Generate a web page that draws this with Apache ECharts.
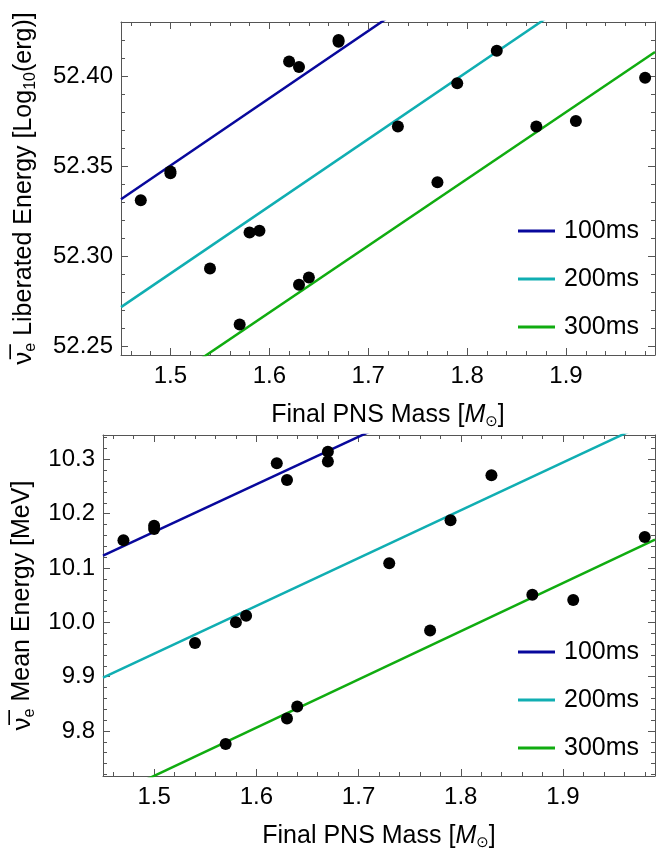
<!DOCTYPE html>
<html>
<head>
<meta charset="utf-8">
<script src="https://cdn.jsdelivr.net/npm/echarts@6/dist/echarts.min.js"></script>
<style>
html,body{margin:0;padding:0;background:#fff;}
#chart{width:658px;height:852px;}
</style>
</head>
<body>
<div id="chart"></div>
<script>
// ---- Data ----
var seriesNames = ['100ms', '200ms', '300ms'];
var lineColors = ['#08089c', '#10aeb2', '#10ac10'];

var pnsMass = [1.47, 1.50, 1.50, 1.54, 1.57, 1.58, 1.59, 1.62, 1.63, 1.63, 1.64, 1.67, 1.67, 1.73, 1.77, 1.79, 1.83, 1.87, 1.91, 1.98];
var liberatedEnergy = [52.331, 52.346, 52.347, 52.293, 52.262, 52.313, 52.314, 52.408, 52.405, 52.284, 52.288, 52.419, 52.420, 52.372, 52.341, 52.396, 52.414, 52.372, 52.375, 52.399];
var meanEnergy = [10.151, 10.178, 10.172, 9.962, 9.776, 10.000, 10.012, 10.293, 10.262, 9.823, 9.845, 10.314, 10.296, 10.109, 9.985, 10.188, 10.271, 10.051, 10.041, 10.157];

// fit lines: values at the two fitX ends
var fitX = [1.45, 1.99];
var fitLiberated100 = [52.3315, 52.5335];
var fitLiberated200 = [52.2716, 52.4732];
var fitLiberated300 = [52.2129, 52.4133];
var fitMean100 = [10.123, 10.5955];
var fitMean200 = [9.898, 10.3737];
var fitMean300 = [9.6728, 10.1523];

var xRange = [1.45, 1.99];
var yRangeTop = [52.245, 52.43];
var yRangeBottom = [9.717, 10.345];

// ---- Chart ----
var FONT = '"Liberation Sans", Arial, sans-serif';
var FRAME = '#555';
function pairs(xs, ys) { return xs.map(function (x, i) { return [x, ys[i]]; }); }

function makeAxis(gridIndex, pos, range, showLabel, fmt, extra) {
  var ax = {
    type: 'value', gridIndex: gridIndex, position: pos,
    min: range[0], max: range[1],
    splitNumber: extra.splitNumber,
    axisLine: { show: true, lineStyle: { color: FRAME, width: 1 } },
    axisTick: { show: true, inside: true, length: 7, lineStyle: { color: FRAME } },
    minorTick: { show: true, splitNumber: 5, length: 4, lineStyle: { color: FRAME } },
    splitLine: { show: false },
    axisLabel: {
      show: showLabel, color: '#000', fontFamily: FONT, fontSize: 24,
      margin: extra.margin || 8, showMinLabel: false, showMaxLabel: false,
      formatter: fmt
    }
  };
  if (extra.name) {
    ax.name = extra.name;
    ax.nameLocation = 'middle';
    ax.nameGap = extra.nameGap;
    ax.nameTextStyle = extra.nameTextStyle;
  }
  return ax;
}

var richBase = {
  b: { fontSize: 25, fontFamily: FONT, color: '#000', lineHeight: 30, verticalAlign: 'middle' },
  s: { fontSize: 16, fontFamily: FONT, color: '#000', lineHeight: 18, verticalAlign: 'bottom' },
  nu: { fontSize: 26, fontFamily: FONT, color: '#000', lineHeight: 30, verticalAlign: 'middle' },
  i: { fontSize: 25, fontFamily: FONT, fontStyle: 'italic', color: '#000', lineHeight: 30, verticalAlign: 'middle' },
  so: { fontSize: 15, fontFamily: '"DejaVu Sans", sans-serif', color: '#000', lineHeight: 18, verticalAlign: 'bottom' }
};
var xName = '{b|Final PNS Mass [}{i|M}{so|\u2299}{b|]}';
var yNameTop = '{nu|\u03bd\u0305}{s|e}{b| Liberated Energy [Log}{s|10}{b|(erg)]}';
var yNameBottom = '{nu|\u03bd\u0305}{s|e}{b| Mean Energy [MeV]}';

var xFmt = function (v) { return v.toFixed(1); };

function legendAt(top) {
  return {
    data: seriesNames, orient: 'vertical', left: 513, top: top, itemGap: 18,
    itemWidth: 37, itemHeight: 3, icon: 'rect',
    textStyle: { fontFamily: FONT, fontSize: 25, lineHeight: 30, color: '#000', padding: [0, 0, 0, 4] },
    selectedMode: false
  };
}

var option = {
  animation: false,
  backgroundColor: '#fff',
  grid: [
    { left: 121, top: 22, right: 3, height: 333 },
    { left: 103, top: 435, right: 3, height: 342 }
  ],
  xAxis: [
    makeAxis(0, 'bottom', xRange, true, xFmt, { splitNumber: 5, margin: 9, name: xName, nameGap: 45, nameTextStyle: { rich: richBase } }),
    makeAxis(0, 'top', xRange, false, xFmt, { splitNumber: 5 }),
    makeAxis(1, 'bottom', xRange, true, xFmt, { splitNumber: 5, margin: 9, name: xName, nameGap: 45, nameTextStyle: { rich: richBase } }),
    makeAxis(1, 'top', xRange, false, xFmt, { splitNumber: 5 })
  ],
  yAxis: [
    makeAxis(0, 'left', yRangeTop, true, function (v) { return v.toFixed(2); }, { splitNumber: 4, margin: 8, name: yNameTop, nameGap: 82, nameTextStyle: { rich: richBase } }),
    makeAxis(0, 'right', yRangeTop, false, null, { splitNumber: 4 }),
    makeAxis(1, 'left', yRangeBottom, true, function (v) { return v.toFixed(1); }, { splitNumber: 6, margin: 8, name: yNameBottom, nameGap: 64, nameTextStyle: { rich: richBase } }),
    makeAxis(1, 'right', yRangeBottom, false, null, { splitNumber: 6 })
  ],
  legend: [legendAt(211), legendAt(632)],
  series: []
};

var fitsTop = [fitLiberated100, fitLiberated200, fitLiberated300];
var fitsBottom = [fitMean100, fitMean200, fitMean300];
for (var k = 0; k < 3; k++) {
  option.series.push({
    name: seriesNames[k], type: 'line', xAxisIndex: 0, yAxisIndex: 0,
    data: pairs(fitX, fitsTop[k]), showSymbol: false, clip: true,
    lineStyle: { color: lineColors[k], width: 2.5 }, itemStyle: { color: lineColors[k] }
  });
  option.series.push({
    name: seriesNames[k], type: 'line', xAxisIndex: 2, yAxisIndex: 2,
    data: pairs(fitX, fitsBottom[k]), showSymbol: false, clip: true,
    lineStyle: { color: lineColors[k], width: 2.5 }, itemStyle: { color: lineColors[k] }
  });
}
option.series.push({
  name: 'dataTop', type: 'scatter', xAxisIndex: 0, yAxisIndex: 0,
  data: pairs(pnsMass, liberatedEnergy), symbolSize: 12, itemStyle: { color: '#000', opacity: 1 }, z: 5
});
option.series.push({
  name: 'dataBottom', type: 'scatter', xAxisIndex: 2, yAxisIndex: 2,
  data: pairs(pnsMass, meanEnergy), symbolSize: 12, itemStyle: { color: '#000', opacity: 1 }, z: 5
});

var chart = echarts.init(document.getElementById('chart'), null, { renderer: 'canvas' });
chart.setOption(option);
</script>
</body>
</html>
